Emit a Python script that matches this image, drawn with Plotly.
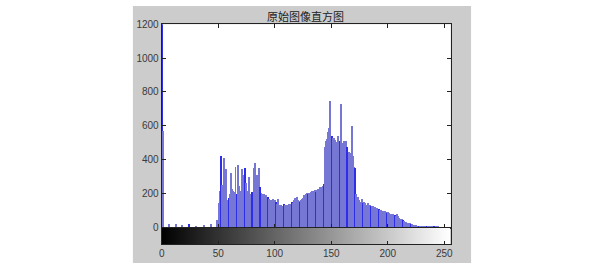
import plotly.graph_objects as go

# ---- data ----
title_text = "原始图像直方图"
x_tick_vals = [0, 50, 100, 150, 200, 250]
y_tick_vals = [0, 200, 400, 600, 800, 1000, 1200]

counts = [
    1300, 570, 0, 0, 0, 0, 20, 0, 0, 0,            # 0-9
    0, 0, 18, 0, 0, 0, 0, 0, 15, 0,                # 10-19
    0, 0, 0, 0, 20, 0, 0, 0, 0, 0,                 # 20-29
    10, 0, 0, 0, 0, 0, 0, 14, 0, 0,                # 30-39
    0, 0, 0, 20, 0, 0, 0, 0, 0, 45,                # 40-49
    146, 218, 424, 250, 205, 410, 283, 344, 161, 175,   # 50-59
    200, 321, 228, 215, 210, 359, 200, 368, 246, 161,   # 60-69
    215, 344, 308, 350, 265, 215, 170, 300, 90, 195,    # 70-79
    209, 353, 378, 240, 311, 260, 353, 237, 203, 200,   # 80-89
    195, 185, 190, 175, 180, 170, 165, 160, 170, 150,   # 90-99
    160, 150, 141, 170, 130, 133, 124, 120, 141, 130,   # 100-109
    135, 133, 140, 138, 141, 150, 145, 165, 174, 182,   # 110-119
    160, 155, 150, 160, 170, 175, 190, 200, 203, 195,   # 120-129
    205, 203, 210, 218, 215, 220, 209, 221, 228, 215,   # 130-139
    237, 240, 246, 256, 472, 509, 520, 565, 585, 748,   # 140-149
    537, 530, 528, 518, 505, 499, 537, 510, 731, 499,   # 150-159
    490, 509, 499, 510, 472, 443, 440, 433, 597, 424,   # 160-169
    358, 349, 200, 180, 160, 152, 150, 171, 143, 150,   # 170-179
    145, 135, 143, 133, 130, 124, 125, 128, 118, 112,   # 180-189
    115, 110, 112, 105, 105, 100, 98, 96, 92, 88,       # 190-199
    90, 86, 82, 77, 80, 75, 73, 70, 77, 65,             # 200-209
    58, 52, 49, 45, 40, 35, 30, 28, 26, 24,             # 210-219
    21, 19, 17, 15, 14, 12, 11, 10, 10, 9,              # 220-229
    10, 8, 8, 7, 8, 6, 7, 6, 8, 5,                      # 230-239
    6, 4, 6, 3, 4, 2, 0, 0, 0, 0,                       # 240-249
    0, 0, 0, 0, 0, 0,                                   # 250-255
]
gray_levels = list(range(256))

# ---- figure ----
W, H = 600, 269
def px_x(p):
    return p / W
def px_y(p):
    return 1 - p / H

font_fam = "Liberation Sans, Arial, sans-serif"
tick_font = dict(family=font_fam, size=10, color="#3a3a3a")

# stem-like aliasing look: most bars light, every 7th bar a saturated blue line
bar_colors = ["rgb(45,45,235)" if (g % 7 == 3) else "rgb(118,118,212)" for g in gray_levels]
bar_colors[0] = "rgb(45,45,235)"

fig = go.Figure()
fig.add_trace(go.Bar(
    x=gray_levels, y=counts, width=0.85,
    marker=dict(color=bar_colors, line=dict(width=0)),
    xaxis="x", yaxis="y", showlegend=False,
))
fig.add_trace(go.Heatmap(
    x=gray_levels, y=[0.5], z=[gray_levels],
    colorscale=[[0, "black"], [1, "white"]], showscale=False,
    xaxis="x2", yaxis="y2", hoverinfo="skip",
))

x_dom = [px_x(160), px_x(451.5)]
y_dom = [px_y(232), px_y(19)]
x_range = [0, 255.7]
fig.update_layout(
    width=W, height=H,
    margin=dict(l=0, r=0, t=0, b=0),
    paper_bgcolor="white",
    plot_bgcolor="white",
    bargap=0,
    shapes=[
        dict(type="rect", xref="paper", yref="paper",
             x0=px_x(131), x1=px_x(472), y0=0, y1=1,
             fillcolor="rgb(204,204,204)", line=dict(width=0), layer="below"),
        dict(type="rect", xref="paper", yref="paper",
             x0=x_dom[0], x1=x_dom[1], y0=y_dom[0], y1=y_dom[1],
             fillcolor="white", line=dict(width=0), layer="below"),
    ],
    annotations=[dict(text=title_text, xref="paper", yref="paper",
                      x=px_x(305), y=px_y(10), showarrow=False,
                      xanchor="center", yanchor="middle",
                      font=dict(family="Noto Sans CJK SC", size=11, color="#222"))],
    xaxis=dict(domain=x_dom, range=x_range, anchor="y",
               tickvals=x_tick_vals, showticklabels=False,
               ticks="inside", ticklen=4, tickcolor="#222",
               showline=True, linecolor="#222", linewidth=1, mirror="ticks",
               showgrid=False, zeroline=False),
    yaxis=dict(domain=y_dom, range=[0, 1200], anchor="x",
               tickvals=y_tick_vals, ticks="inside", ticklen=4, tickcolor="#222",
               tickfont=tick_font,
               showline=True, linecolor="#222", linewidth=1, mirror="ticks",
               showgrid=False, zeroline=False),
    xaxis2=dict(domain=x_dom, range=x_range, anchor="y2",
                tickvals=x_tick_vals, ticks="inside", ticklen=3, tickcolor="#222",
                tickfont=tick_font,
                showline=True, linecolor="#222", linewidth=1, mirror=True,
                showgrid=False, zeroline=False),
    yaxis2=dict(domain=[px_y(249.3), px_y(232)], range=[0, 1], anchor="x2",
                showticklabels=False, ticks="",
                showline=True, linecolor="#222", linewidth=1, mirror=True,
                showgrid=False, zeroline=False),
)

fig.write_html("out.html")
